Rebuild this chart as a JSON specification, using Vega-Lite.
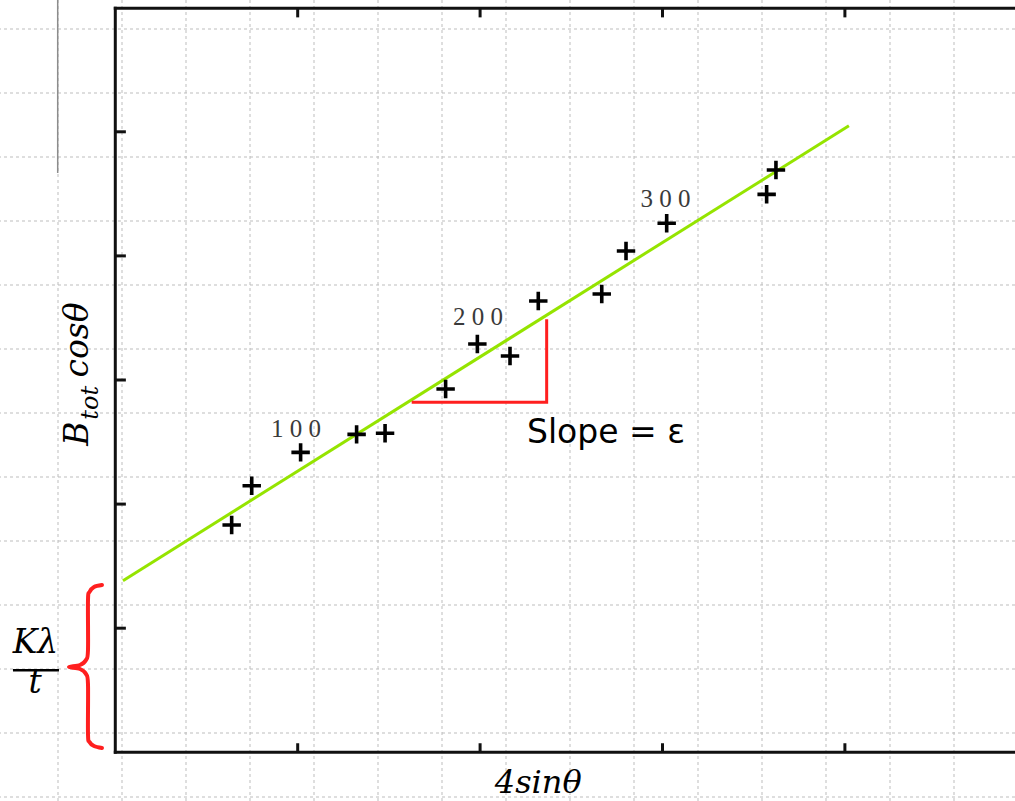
{
  "$schema": "https://vega.github.io/schema/vega-lite/v6.json",
  "width": 1015,
  "height": 801,
  "padding": 0,
  "autosize": {"type": "none"},
  "background": "white",
  "config": {"view": {"stroke": null}, "axis": {"disable": true}},
  "datasets": {
    "gridx": [{"k":0},{"k":1},{"k":2},{"k":3},{"k":4},{"k":5},{"k":6},{"k":7},{"k":8},{"k":9},{"k":10},{"k":11},{"k":12},{"k":13},{"k":14}],
    "gridy": [{"j":0},{"j":1},{"j":2},{"j":3},{"j":4},{"j":5},{"j":6},{"j":7},{"j":8},{"j":9},{"j":10},{"j":11},{"j":12}],
    "points": [
      {"x":0.638,"y":1.832},{"x":0.748,"y":2.148},{"x":1.016,"y":2.417},{"x":1.323,"y":2.562},
      {"x":1.479,"y":2.571},{"x":1.811,"y":2.927},{"x":1.985,"y":3.290},{"x":2.164,"y":3.193},
      {"x":2.319,"y":3.637},{"x":2.667,"y":3.693},{"x":2.800,"y":4.039},{"x":3.023,"y":4.263},
      {"x":3.571,"y":4.496},{"x":3.622,"y":4.692}
    ],
    "fit": [{"x":0.042,"y":1.383},{"x":4.022,"y":5.049}],
    "labels": [{"x":0.991,"y":2.541,"t":"1 0 0"},{"x":1.989,"y":3.443,"t":"2 0 0"},{"x":3.016,"y":4.390,"t":"3 0 0"}],
    "triangle": [{"i":0,"x":1.625,"y":2.820},{"i":1,"x":2.365,"y":2.820},{"i":2,"x":2.365,"y":3.489}],
    "frame": [
      {"x":0,"y":0,"x2":0,"y2":5.995},
      {"x":0,"y":0,"x2":5.2,"y2":0},
      {"x":0,"y":5.995,"x2":5.2,"y2":5.995}
    ],
    "ticks": [
      {"x":0,"x2":0.058,"y":1,"y2":1},{"x":0,"x2":0.058,"y":2,"y2":2},{"x":0,"x2":0.058,"y":3,"y2":3},
      {"x":0,"x2":0.058,"y":4,"y2":4},{"x":0,"x2":0.058,"y":5,"y2":5},
      {"x":1,"x2":1,"y":0,"y2":0.073},{"x":2,"x2":2,"y":0,"y2":0.073},{"x":3,"x2":3,"y":0,"y2":0.073},{"x":4,"x2":4,"y":0,"y2":0.073},
      {"x":1,"x2":1,"y":5.995,"y2":5.922},{"x":2,"x2":2,"y":5.995,"y2":5.922},{"x":3,"x2":3,"y":5.995,"y2":5.922},{"x":4,"x2":4,"y":5.995,"y2":5.922}
    ],
    "brace": [
      {"i":0,"x":-0.0729,"y":1.3481},{"i":1,"x":-0.1168,"y":1.3320},{"i":2,"x":-0.1414,"y":1.2917},
      {"i":3,"x":-0.1497,"y":1.2272},{"i":4,"x":-0.1497,"y":0.8243},{"i":5,"x":-0.1606,"y":0.7438},
      {"i":6,"x":-0.1935,"y":0.7035},{"i":7,"x":-0.2538,"y":0.6874},{"i":8,"x":-0.1935,"y":0.6712},
      {"i":9,"x":-0.1606,"y":0.6309},{"i":10,"x":-0.1497,"y":0.5504},{"i":11,"x":-0.1497,"y":0.1475},
      {"i":12,"x":-0.1414,"y":0.0830},{"i":13,"x":-0.1168,"y":0.0508},{"i":14,"x":-0.0729,"y":0.0347}
    ],
    "grayline": [{"x":-0.3158,"y":4.668,"y2":6.062}],
    "fracbar": [{"x":-0.561,"x2":-0.3087,"y":0.661}],
    "ytitleB": [{"x":-0.1497,"y":2.47,"t":"B"}],
    "ytitleSub": [{"x":-0.0935,"y":2.68,"t":"tot"}],
    "ytitleCos": [{"x":-0.1497,"y":3.02,"t":"cosθ"}],
    "xtitle": [{"x":2.319,"y":-0.328,"t":"4sinθ"}],
    "frac": [{"x":-0.4375,"y":0.798,"t":"Kλ"},{"x":-0.440,"y":0.478,"t":"t"}],
    "slope": [{"x":2.2571,"y":2.4924,"t":"Slope = ε"}]
  },
  "layer": [
    {
      "layer": [
        {
          "data": {"name": "gridx"},
          "mark": {"type": "rule", "color": "#bdbdbd", "strokeWidth": 1, "strokeDash": [3, 3]},
          "encoding": {"x": {"field": "k", "type": "quantitative", "scale": {"domain": [-0.90625, 14.953125], "nice": false, "zero": false}}}
        },
        {
          "data": {"name": "gridy"},
          "mark": {"type": "rule", "color": "#bdbdbd", "strokeWidth": 1, "strokeDash": [3, 3]},
          "encoding": {"y": {"field": "j", "type": "quantitative", "scale": {"domain": [-0.453125, 12.0625], "reverse": true, "nice": false, "zero": false}}}
        }
      ]
    },
    {
      "layer": [
        {
          "data": {"name": "grayline"},
          "mark": {"type": "rule", "color": "#8c8c8c", "strokeWidth": 1.5},
          "encoding": {
            "x": {"field": "x", "type": "quantitative", "scale": {"domain": [-0.6321, 4.9326], "nice": false, "zero": false}},
            "y": {"field": "y", "type": "quantitative", "scale": {"domain": [-0.3924, 6.0620], "nice": false, "zero": false}},
            "y2": {"field": "y2"}
          }
        },
        {
          "data": {"name": "fit"},
          "mark": {"type": "line", "color": "#95e400", "strokeWidth": 3},
          "encoding": {
            "x": {"field": "x", "type": "quantitative", "scale": {"domain": [-0.6321, 4.9326], "nice": false, "zero": false}},
            "y": {"field": "y", "type": "quantitative", "scale": {"domain": [-0.3924, 6.0620], "nice": false, "zero": false}}
          }
        },
        {
          "data": {"name": "triangle"},
          "mark": {"type": "line", "color": "#ff1f1f", "strokeWidth": 3},
          "encoding": {
            "x": {"field": "x", "type": "quantitative", "scale": {"domain": [-0.6321, 4.9326], "nice": false, "zero": false}},
            "y": {"field": "y", "type": "quantitative", "scale": {"domain": [-0.3924, 6.0620], "nice": false, "zero": false}},
            "order": {"field": "i"}
          }
        },
        {
          "data": {"name": "brace"},
          "mark": {"type": "line", "color": "#ff1f1f", "strokeWidth": 4, "interpolate": "cardinal", "strokeCap": "round"},
          "encoding": {
            "x": {"field": "x", "type": "quantitative", "scale": {"domain": [-0.6321, 4.9326], "nice": false, "zero": false}},
            "y": {"field": "y", "type": "quantitative", "scale": {"domain": [-0.3924, 6.0620], "nice": false, "zero": false}},
            "order": {"field": "i"}
          }
        },
        {
          "data": {"name": "frame"},
          "mark": {"type": "rule", "color": "#111111", "strokeWidth": 3, "strokeCap": "square"},
          "encoding": {
            "x": {"field": "x", "type": "quantitative", "scale": {"domain": [-0.6321, 4.9326], "nice": false, "zero": false}},
            "y": {"field": "y", "type": "quantitative", "scale": {"domain": [-0.3924, 6.0620], "nice": false, "zero": false}},
            "x2": {"field": "x2"},
            "y2": {"field": "y2"}
          }
        },
        {
          "data": {"name": "ticks"},
          "mark": {"type": "rule", "color": "#111111", "strokeWidth": 3},
          "encoding": {
            "x": {"field": "x", "type": "quantitative", "scale": {"domain": [-0.6321, 4.9326], "nice": false, "zero": false}},
            "y": {"field": "y", "type": "quantitative", "scale": {"domain": [-0.3924, 6.0620], "nice": false, "zero": false}},
            "x2": {"field": "x2"},
            "y2": {"field": "y2"}
          }
        },
        {
          "data": {"name": "points"},
          "mark": {"type": "point", "shape": "M-1,0H1M0,-1V1", "size": 340, "filled": false, "stroke": "#000000", "strokeWidth": 3.6, "opacity": 1},
          "encoding": {
            "x": {"field": "x", "type": "quantitative", "scale": {"domain": [-0.6321, 4.9326], "nice": false, "zero": false}},
            "y": {"field": "y", "type": "quantitative", "scale": {"domain": [-0.3924, 6.0620], "nice": false, "zero": false}}
          }
        },
        {
          "data": {"name": "labels"},
          "mark": {"type": "text", "font": "Liberation Serif", "fontSize": 25, "color": "#3a3a3a", "align": "center", "baseline": "alphabetic"},
          "encoding": {
            "x": {"field": "x", "type": "quantitative", "scale": {"domain": [-0.6321, 4.9326], "nice": false, "zero": false}},
            "y": {"field": "y", "type": "quantitative", "scale": {"domain": [-0.3924, 6.0620], "nice": false, "zero": false}},
            "text": {"field": "t"}
          }
        },
        {
          "data": {"name": "slope"},
          "mark": {"type": "text", "font": "DejaVu Sans", "fontSize": 33, "color": "#000000", "align": "left", "baseline": "alphabetic"},
          "encoding": {
            "x": {"field": "x", "type": "quantitative", "scale": {"domain": [-0.6321, 4.9326], "nice": false, "zero": false}},
            "y": {"field": "y", "type": "quantitative", "scale": {"domain": [-0.3924, 6.0620], "nice": false, "zero": false}},
            "text": {"field": "t"}
          }
        },
        {
          "data": {"name": "ytitleB"},
          "mark": {"type": "text", "font": "DejaVu Serif", "fontStyle": "italic", "fontSize": 33, "color": "#000000", "align": "left", "baseline": "alphabetic", "angle": 270},
          "encoding": {
            "x": {"field": "x", "type": "quantitative", "scale": {"domain": [-0.6321, 4.9326], "nice": false, "zero": false}},
            "y": {"field": "y", "type": "quantitative", "scale": {"domain": [-0.3924, 6.0620], "nice": false, "zero": false}},
            "text": {"field": "t"}
          }
        },
        {
          "data": {"name": "ytitleSub"},
          "mark": {"type": "text", "font": "DejaVu Serif", "fontStyle": "italic", "fontSize": 24, "color": "#000000", "align": "left", "baseline": "alphabetic", "angle": 270},
          "encoding": {
            "x": {"field": "x", "type": "quantitative", "scale": {"domain": [-0.6321, 4.9326], "nice": false, "zero": false}},
            "y": {"field": "y", "type": "quantitative", "scale": {"domain": [-0.3924, 6.0620], "nice": false, "zero": false}},
            "text": {"field": "t"}
          }
        },
        {
          "data": {"name": "ytitleCos"},
          "mark": {"type": "text", "font": "DejaVu Serif", "fontStyle": "italic", "fontSize": 33, "color": "#000000", "align": "left", "baseline": "alphabetic", "angle": 270},
          "encoding": {
            "x": {"field": "x", "type": "quantitative", "scale": {"domain": [-0.6321, 4.9326], "nice": false, "zero": false}},
            "y": {"field": "y", "type": "quantitative", "scale": {"domain": [-0.3924, 6.0620], "nice": false, "zero": false}},
            "text": {"field": "t"}
          }
        },
        {
          "data": {"name": "xtitle"},
          "mark": {"type": "text", "font": "DejaVu Serif", "fontStyle": "italic", "fontSize": 32, "color": "#000000", "align": "center", "baseline": "alphabetic"},
          "encoding": {
            "x": {"field": "x", "type": "quantitative", "scale": {"domain": [-0.6321, 4.9326], "nice": false, "zero": false}},
            "y": {"field": "y", "type": "quantitative", "scale": {"domain": [-0.3924, 6.0620], "nice": false, "zero": false}},
            "text": {"field": "t"}
          }
        },
        {
          "data": {"name": "frac"},
          "mark": {"type": "text", "font": "DejaVu Serif", "fontStyle": "italic", "fontSize": 33, "color": "#000000", "align": "center", "baseline": "alphabetic"},
          "encoding": {
            "x": {"field": "x", "type": "quantitative", "scale": {"domain": [-0.6321, 4.9326], "nice": false, "zero": false}},
            "y": {"field": "y", "type": "quantitative", "scale": {"domain": [-0.3924, 6.0620], "nice": false, "zero": false}},
            "text": {"field": "t"}
          }
        },
        {
          "data": {"name": "fracbar"},
          "mark": {"type": "rule", "color": "#000000", "strokeWidth": 2.5},
          "encoding": {
            "x": {"field": "x", "type": "quantitative", "scale": {"domain": [-0.6321, 4.9326], "nice": false, "zero": false}},
            "y": {"field": "y", "type": "quantitative", "scale": {"domain": [-0.3924, 6.0620], "nice": false, "zero": false}},
            "x2": {"field": "x2"}
          }
        }
      ]
    }
  ],
  "resolve": {"scale": {"x": "independent", "y": "independent"}}
}
